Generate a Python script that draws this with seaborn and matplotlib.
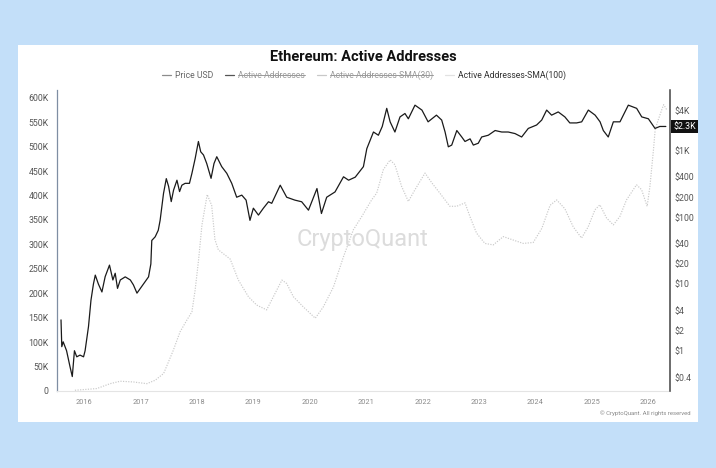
import matplotlib
matplotlib.use("Agg")
import matplotlib.pyplot as plt
from matplotlib.lines import Line2D
from matplotlib.patches import Rectangle
import seaborn as sns
import pandas as pd

# ---------------- data ----------------
price_dates = [
    "2015-08-04", "2015-08-09", "2015-08-18", "2015-09-09", "2015-10-01", "2015-10-16",
    "2015-10-30", "2015-11-14", "2015-12-05", "2015-12-28", "2016-01-07", "2016-01-29",
    "2016-02-14", "2016-03-01", "2016-03-13", "2016-04-02", "2016-04-25", "2016-05-16",
    "2016-06-13", "2016-07-05", "2016-07-20", "2016-08-04", "2016-08-22", "2016-09-23",
    "2016-10-26", "2016-11-15", "2016-12-08", "2016-12-30", "2017-01-30", "2017-02-21",
    "2017-03-08", "2017-03-14", "2017-04-05", "2017-04-25", "2017-05-07", "2017-05-29",
    "2017-06-16", "2017-07-01", "2017-07-18", "2017-08-02", "2017-08-24", "2017-09-10",
    "2017-09-25", "2017-10-16", "2017-11-13", "2017-11-29", "2017-12-20", "2018-01-10",
    "2018-01-25", "2018-02-12", "2018-03-05", "2018-04-02", "2018-04-21", "2018-05-09",
    "2018-06-10", "2018-07-13", "2018-08-14", "2018-09-15", "2018-10-18", "2018-11-15",
    "2018-12-10", "2019-01-01", "2019-02-03", "2019-03-07", "2019-04-09", "2019-04-30",
    "2019-06-24", "2019-08-05", "2019-09-27", "2019-11-10", "2019-12-24", "2020-02-17",
    "2020-03-17", "2020-04-20", "2020-06-13", "2020-08-07", "2020-09-09", "2020-10-22",
    "2020-12-14", "2021-01-05", "2021-02-17", "2021-03-21", "2021-04-15", "2021-05-14",
    "2021-06-05", "2021-07-06", "2021-08-08", "2021-09-09", "2021-10-01", "2021-11-13",
    "2021-12-28", "2022-02-06", "2022-04-01", "2022-05-05", "2022-05-27", "2022-06-17",
    "2022-07-09", "2022-08-11", "2022-09-12", "2022-10-03", "2022-11-05", "2022-11-26",
    "2022-12-28", "2023-01-19", "2023-03-03", "2023-04-16", "2023-05-29", "2023-07-10",
    "2023-08-23", "2023-10-05", "2023-11-17", "2024-01-10", "2024-02-12", "2024-03-15",
    "2024-04-16", "2024-05-29", "2024-07-11", "2024-08-12", "2024-09-25", "2024-10-28",
    "2024-12-10", "2025-01-23", "2025-02-24", "2025-03-17", "2025-04-18", "2025-05-21",
    "2025-07-03", "2025-08-04", "2025-08-26", "2025-10-19", "2025-11-21", "2026-01-03",
    "2026-02-15", "2026-03-18", "2026-04-26",
]
price_usd = [
    2.9, 1.15, 1.36, 1.0, 0.58, 0.41,
    1.0, 0.81, 0.86, 0.81, 1.0, 2.3,
    5.7, 10, 13.6, 10, 7.6, 12.9,
    19.2, 11.5, 14.5, 8.6, 11.5, 12.8,
    11.5, 9.7, 7.3, 8.6, 10.8, 12.8,
    20, 45, 51, 64, 90, 228,
    380, 290, 172, 255, 360, 243,
    303, 323, 323, 456, 760, 1370,
    960, 860, 640, 384, 640, 810,
    575, 456, 323, 200, 215, 181,
    90, 137, 108, 137, 171, 162,
    303, 200, 181, 171, 128, 270,
    114, 200, 240, 405, 360, 400,
    575, 1070, 1900, 1700, 2300, 4300,
    2700, 1900, 3200, 3600, 3000, 4800,
    4050, 2700, 3400, 2870, 1900, 1140,
    1210, 2000, 1600, 1370, 1500, 1210,
    1290, 1600, 1700, 2000, 1900, 1900,
    1800, 1600, 2150, 2420, 2870, 4050,
    3400, 3800, 3200, 2600, 2600, 2700,
    4050, 3400, 2700, 2000, 1600, 2700,
    2700, 3800, 4800, 4300, 3200, 3000,
    2150, 2300, 2300,
]

sma_dates = [
    "2015-11-02", "2016-03-23", "2016-06-17", "2016-08-22", "2016-11-15", "2017-02-10",
    "2017-04-05", "2017-05-30", "2017-07-31", "2017-09-13", "2017-10-27", "2017-11-29",
    "2017-12-20", "2018-01-11", "2018-02-02", "2018-03-08", "2018-04-06", "2018-04-27",
    "2018-05-19", "2018-08-04", "2018-09-26", "2018-11-30", "2019-01-22", "2019-03-28",
    "2019-05-22", "2019-07-05", "2019-08-05", "2019-09-17", "2019-11-21", "2020-02-06",
    "2020-03-29", "2020-06-03", "2020-08-07", "2020-10-10", "2020-12-03", "2021-02-05",
    "2021-03-10", "2021-04-22", "2021-06-05", "2021-07-06", "2021-08-18", "2021-10-01",
    "2021-11-13", "2022-01-17", "2022-03-02", "2022-04-23", "2022-06-27", "2022-08-10",
    "2022-10-03", "2022-11-04", "2022-12-17", "2023-02-09", "2023-04-04", "2023-06-08",
    "2023-08-11", "2023-10-15", "2023-12-19", "2024-02-13", "2024-04-06", "2024-05-19",
    "2024-07-11", "2024-09-03", "2024-10-27", "2024-12-09", "2025-01-22", "2025-02-23",
    "2025-04-07", "2025-05-21", "2025-07-02", "2025-08-14", "2025-10-18", "2025-11-20",
    "2025-12-26", "2026-01-13", "2026-02-05", "2026-02-16", "2026-03-08", "2026-03-31",
    "2026-04-12", "2026-05-01",
]
sma100 = [
    1500, 5000, 15000, 20000, 18500, 15000,
    22000, 36000, 83000, 121000, 145000, 162000,
    207000, 268000, 340000, 402000, 380000, 310000,
    289000, 270000, 227000, 193000, 176000, 166000,
    200000, 227000, 220000, 193000, 172000, 149000,
    172000, 213000, 275000, 330000, 357000, 391000,
    405000, 453000, 473000, 463000, 419000, 388000,
    412000, 446000, 426000, 405000, 378000, 378000,
    385000, 357000, 323000, 302000, 299000, 316000,
    309000, 302000, 304000, 333000, 380000, 391000,
    373000, 336000, 313000, 336000, 371000, 381000,
    354000, 340000, 357000, 391000, 422000, 412000,
    378000, 419000, 494000, 535000, 555000, 576000,
    586000, 576000,
]

legend_labels = ["Price USD", "Active Addresses", "Active Addresses-SMA(30)",
                 "Active Addresses-SMA(100)"]
left_ticks = [0, 50000, 100000, 150000, 200000, 250000, 300000, 350000, 400000,
              450000, 500000, 550000, 600000]
left_tick_labels = ["0", "50K", "100K", "150K", "200K", "250K", "300K", "350K", "400K",
                    "450K", "500K", "550K", "600K"]
right_ticks = [0.4, 1, 2, 4, 10, 20, 40, 100, 200, 400, 1000, 4000]
right_tick_labels = ["$0.4", "$1", "$2", "$4", "$10", "$20", "$40", "$100", "$200",
                     "$400", "$1K", "$4K"]
year_ticks = [str(y) for y in range(2016, 2027)]
last_price_label = "$2.3K"
title = "Ethereum: Active Addresses"

price_df = pd.DataFrame({"date": pd.to_datetime(price_dates), "price": price_usd})
sma_df = pd.DataFrame({"date": pd.to_datetime(sma_dates), "sma": sma100})

# ---------------- style ----------------
sns.set_theme(style="white")
plt.rcParams["font.family"] = ["Roboto", "DejaVu Sans"]

W, H = 716, 468
fig = plt.figure(figsize=(W / 100, H / 100), dpi=100)
fig.patch.set_facecolor("#C3DFF9")
fig.add_artist(Rectangle((18 / W, 1 - 422 / H), (698 - 18) / W, (422 - 45) / H,
                         transform=fig.transFigure, facecolor="white",
                         edgecolor="none", zorder=0))

ax = fig.add_axes([57 / W, 1 - 391 / H, (670 - 57) / W, (391 - 90) / H])
ax.set_facecolor("none")
ax2 = ax.twinx()

sns.lineplot(data=sma_df, x="date", y="sma", ax=ax, color="#c9c9c9",
             linestyle=(0, (1, 1.2)), linewidth=0.85)
sns.lineplot(data=price_df, x="date", y="price", ax=ax2, color="#1a1a1a",
             linewidth=0.9)

ax.set_xlim(pd.Timestamp("2015-07-09"), pd.Timestamp("2026-05-23"))
ax.set_ylim(0, 616000)
ax2.set_yscale("log")
ax2.set_ylim(0.249, 8100)

ax.set_yticks(left_ticks)
ax.set_yticklabels(left_tick_labels)
ax2.set_yticks(right_ticks)
ax2.set_yticklabels(right_tick_labels)
ax2.yaxis.set_minor_locator(matplotlib.ticker.NullLocator())
ax.set_xticks([pd.Timestamp(f"{y}-01-01") for y in year_ticks])
ax.set_xticklabels(year_ticks)

for a in (ax, ax2):
    a.set_xlabel("")
    a.set_ylabel("")
    a.grid(False)
    for s in a.spines.values():
        s.set_visible(False)

ax.spines["left"].set_visible(True)
ax.spines["left"].set_color("#7f8ea3")
ax.spines["left"].set_linewidth(0.9)
ax.spines["bottom"].set_visible(True)
ax.spines["bottom"].set_color("#e4e4e4")
ax.spines["bottom"].set_linewidth(0.8)
ax2.spines["right"].set_visible(True)
ax2.spines["right"].set_color("#444444")
ax2.spines["right"].set_linewidth(1.1)

ax.tick_params(axis="y", length=0, pad=6, labelsize=6.3, labelcolor="#555555")
ax.tick_params(axis="x", length=0, pad=6, labelsize=5.3, labelcolor="#8a8a8a")
ax2.tick_params(axis="y", length=0, pad=3, labelsize=6.3, labelcolor="#555555")

# last price badge
ax2.annotate(last_price_label, xy=(1.0, price_usd[-1]),
             xycoords=("axes fraction", "data"), xytext=(2.5, 0),
             textcoords="offset points", ha="left", va="center",
             fontsize=6.3, color="white",
             bbox=dict(boxstyle="square,pad=0.25", fc="#111111", ec="none"))

# title
fig.text(363 / W, 1 - 57 / H, title, ha="center", va="center",
         fontsize=10.5, fontweight="bold", color="#111111")

# legend
handles = [
    Line2D([], [], color="#8c8c8c", linewidth=0.9),
    Line2D([], [], color="#555555", linewidth=0.9),
    Line2D([], [], color="#c8c8c8", linewidth=0.9),
    Line2D([], [], color="#e2e2e2", linewidth=0.9),
]
leg = fig.legend(handles, legend_labels, loc="center", bbox_to_anchor=(364 / W, 1 - 75 / H),
                 ncol=4, frameon=False, fontsize=6.2, handlelength=1.0,
                 handletextpad=0.5, columnspacing=1.4)
text_colors = ["#666666", "#9a9a9a", "#9a9a9a", "#333333"]
for t, c in zip(leg.get_texts(), text_colors):
    t.set_color(c)

# watermark and copyright
fig.text(363 / W, 1 - 240 / H, "CryptoQuant", ha="center", va="center",
         fontsize=17, color="#dcdcdc", zorder=0.5)
fig.text(691 / W, 1 - 413 / H, "© CryptoQuant. All rights reserved", ha="right",
         va="center", fontsize=4.3, color="#8a8a8a")

# strike-through for hidden series in the legend
fig.canvas.draw()
renderer = fig.canvas.get_renderer()
for idx in (1, 2):
    bb = leg.get_texts()[idx].get_window_extent(renderer)
    ymid = (bb.y0 + bb.y1) / 2 - 0.3
    fig.add_artist(Line2D([bb.x0 / W, bb.x1 / W], [ymid / H, ymid / H],
                          transform=fig.transFigure, color="#9a9a9a", linewidth=0.7))

fig.savefig("out.png", dpi=100, facecolor=fig.get_facecolor())
